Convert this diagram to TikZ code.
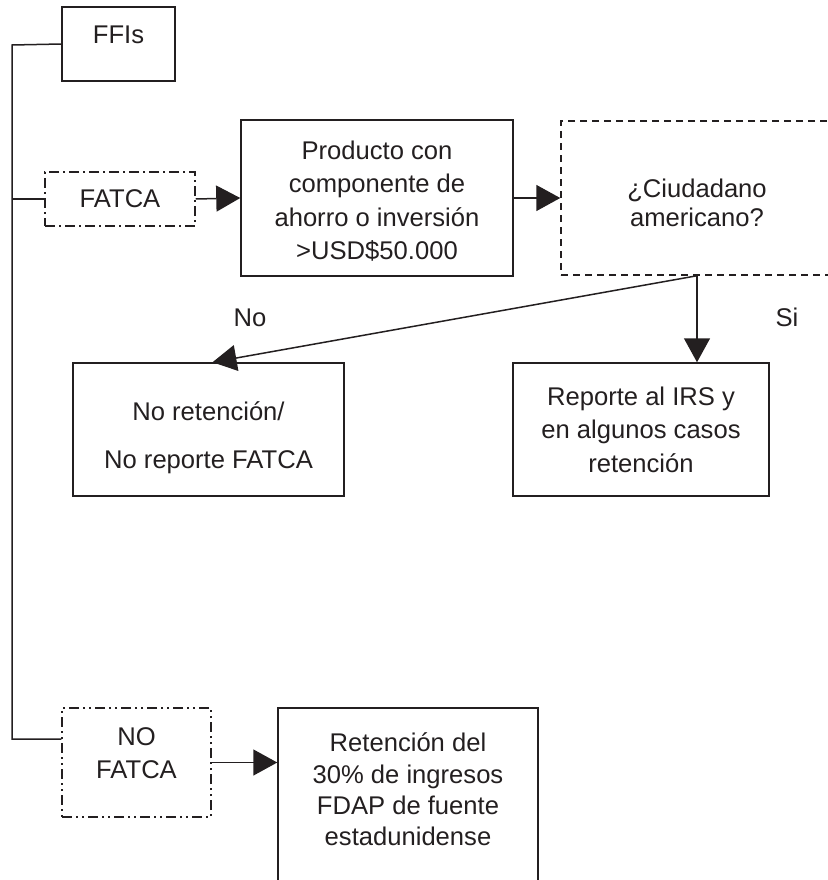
\documentclass[tikz,border=0pt]{standalone}
\usepackage{fontspec}
\setmainfont{Liberation Sans}
\usetikzlibrary{positioning,arrows.meta}
\definecolor{colorline}{RGB}{35,31,32}
\newcommand{\lift}[1]{\rule[-#1]{0pt}{#1}}
\newcommand{\sink}[1]{\rule{0pt}{#1}}

\begin{document}
\begin{tikzpicture}[
    x=1pt, y=-1pt,
    font={\fontsize{25.6pt}{33.5pt}\selectfont},
    base/.style={draw=colorline,text=colorline,line width=1.5pt,inner sep=0pt,align=center,rectangle},
    dashbox/.style={base,dash pattern=on 7pt off 5pt},
    dotbox/.style={base,dash pattern=on 10pt off 4pt on 2pt off 4pt},
    dotdotbox/.style={base,dash pattern=on 10pt off 4pt on 2pt off 4pt on 2pt off 4pt},
    txt/.style={text=colorline},
    link/.style={draw=colorline,line width=1.5pt},
    flow/.style={link,-{Triangle[length=24pt,width=26pt]}},
]
    \useasboundingbox (0,0) rectangle (827,880);

    % Nodes
    \node[base,minimum width=113pt,minimum height=74pt]  (ffis)      at (118.5,44)  {FFIs\lift{18pt}};
    \node[dotbox,minimum width=150pt,minimum height=54pt] (fatca)    at (120,199)   {FATCA};
    \node[base,minimum width=272pt,minimum height=156pt] (producto)  at (377,198)   {\sink{25pt}Producto con\\componente de\\ahorro o inversión\\>USD\$50.000};
    \node[dashbox,minimum width=272pt,minimum height=154pt,font={\fontsize{25.6pt}{29pt}\selectfont}] (ciudadano) at (697,198) {\sink{28pt}¿Ciudadano\\americano?};
    \node[base,minimum width=271pt,minimum height=133pt] (noret)     at (208.5,429.5) {\sink{35pt}No retención/\\[14.5pt]No reporte FATCA};
    \node[base,minimum width=256pt,minimum height=133pt] (reporte)   at (641,429.5) {Reporte al IRS y\\en algunos casos\\retención};
    \node[dotdotbox,minimum width=149pt,minimum height=109pt] (nofatca) at (136.5,762.5) {NO\\FATCA\lift{19pt}};
    \node[base,minimum width=260pt,minimum height=180pt,font={\fontsize{25.6pt}{31.3pt}\selectfont}] (retencion) at (408,798) {Retención del\\30\% de ingresos\\FDAP de fuente\\estadunidense\lift{17pt}};

    % Text
    \node[txt] (no) at (250,318) {No};
    \node[txt] (si) at (787,317) {Si};

    % Trunk
    \coordinate (trunktop) at (12,45);
    \coordinate (trunkbot) at (12,739);
    \draw[link] (ffis.west) -- (trunktop) -- (trunkbot) -- (trunkbot -| nofatca.west);
    \draw[link] (fatca.west -| trunktop) -- (fatca.west);

    % Arrows
    \draw[flow] (fatca.east) -- (producto.west);
    \draw[flow] (producto.east) -- (ciudadano.west);
    \draw[flow] (ciudadano.south) -- ([xshift=4pt]noret.north);
    \draw[flow] (ciudadano.south) -- (ciudadano.south |- reporte.north);
    \draw[flow] (nofatca.east) -- (nofatca.east -| retencion.west);

\end{tikzpicture}
\end{document}
